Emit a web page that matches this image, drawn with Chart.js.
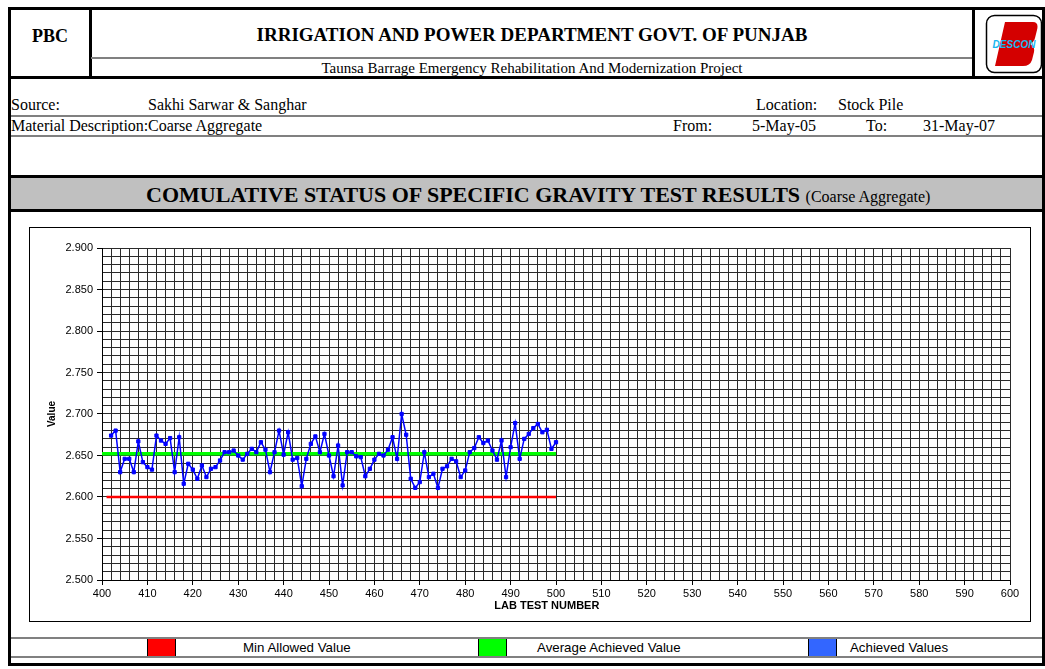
<!DOCTYPE html>
<html>
<head>
<meta charset="utf-8">
<script src="https://cdn.jsdelivr.net/npm/chart.js@4/dist/chart.umd.min.js"></script>
<style>
  body { margin: 0; background: #fff; width: 1045px; height: 669px; position: relative; overflow: hidden; }
  .ln { position: absolute; background: #000; }
  .gl { position: absolute; background: #808080; }
  .t { position: absolute; font-family: "Liberation Serif", "Times New Roman", serif; color: #000; white-space: nowrap; line-height: 1; }
  .s { position: absolute; font-family: "Liberation Sans", Arial, sans-serif; font-size: 13.3px; color: #000; white-space: nowrap; line-height: 1; }
  .box { position: absolute; top: 639px; width: 27px; height: 17px; border-left: 1px solid #000; border-right: 1px solid #000; }
  #chartBox { position: absolute; left: 29px; top: 227px; width: 1000px; height: 393px; border: 1px solid #000; }
</style>
</head>
<body>
<!-- frame -->
<div class="ln" style="left:8px;top:7px;width:3px;height:659px"></div>
<div class="ln" style="left:8px;top:7px;width:1037px;height:3px"></div>
<div class="ln" style="left:1042px;top:7px;width:3px;height:659px"></div>
<div class="ln" style="left:8px;top:663px;width:1037px;height:3px"></div>
<div class="ln" style="left:89px;top:7px;width:3px;height:71px"></div>
<div class="ln" style="left:972px;top:7px;width:3px;height:71px"></div>
<div class="gl" style="left:91px;top:57px;width:881px;height:2px"></div>
<div class="ln" style="left:8px;top:76px;width:1037px;height:3px"></div>
<div class="gl" style="left:11px;top:115px;width:1031px;height:2px"></div>
<div class="gl" style="left:11px;top:135px;width:1031px;height:2px"></div>
<div class="ln" style="left:8px;top:175px;width:1037px;height:3px"></div>
<div style="position:absolute;left:11px;top:178px;width:1031px;height:31px;background:#c0c0c0"></div>
<div class="ln" style="left:8px;top:209px;width:1037px;height:3px"></div>
<div class="gl" style="left:11px;top:637px;width:1031px;height:2px"></div>
<div class="gl" style="left:11px;top:656px;width:1031px;height:2px"></div>

<!-- header -->
<div class="t" style="left:11px;width:78px;top:27px;text-align:center;font-size:18px;font-weight:bold">PBC</div>
<div class="t" style="left:92px;width:880px;top:25px;text-align:center;font-size:19px;font-weight:bold">IRRIGATION AND POWER DEPARTMENT GOVT. OF PUNJAB</div>
<div class="t" style="left:92px;width:880px;top:61px;text-align:center;font-size:15px">Taunsa Barrage Emergency Rehabilitation And Modernization Project</div>
<svg style="position:absolute;left:985px;top:14px" width="58" height="60" viewBox="0 0 58 60">
  <rect x="1.5" y="1.5" width="55" height="57" rx="8" ry="8" fill="#fff" stroke="#000" stroke-width="1.5"/>
  <path d="M20 8 L48 8 Q54 8 52 16 L50 24 Q49 28 45 30 Q50 32 49 38 L47 46 Q45 52 38 52 L10 52 Z" fill="#d40000"/>
  <text x="29" y="34" text-anchor="middle" font-family="Liberation Sans, Arial, sans-serif" font-size="10" font-weight="bold" font-style="italic" fill="#19b8f0">DESCON</text>
</svg>

<!-- info rows -->
<div class="t" style="left:11px;top:97px;font-size:16px">Source:</div>
<div class="t" style="left:148px;top:97px;font-size:16px">Sakhi Sarwar &amp; Sanghar</div>
<div class="t" style="left:756px;top:97px;font-size:16px">Location:</div>
<div class="t" style="left:838px;top:97px;font-size:16px">Stock Pile</div>
<div class="t" style="left:11px;top:118px;font-size:16px;width:137px;overflow:hidden">Material Description:</div>
<div class="t" style="left:148px;top:118px;font-size:16px">Coarse Aggregate</div>
<div class="t" style="left:673px;top:118px;font-size:16px">From:</div>
<div class="t" style="left:752px;top:118px;font-size:16px">5-May-05</div>
<div class="t" style="left:866px;top:118px;font-size:16px">To:</div>
<div class="t" style="left:923px;top:118px;font-size:16px">31-May-07</div>

<!-- chart title band -->
<div class="t" style="left:146px;top:184px;font-size:22px;font-weight:bold">COMULATIVE STATUS OF SPECIFIC GRAVITY TEST RESULTS <span style="font-size:16px;font-weight:normal">(Coarse Aggregate)</span></div>

<div id="chartBox"><canvas id="myChart" width="1000" height="393"></canvas></div>

<!-- legend -->
<div class="box" style="left:147px;background:#ff0000"></div>
<div class="s" style="left:243px;top:641px">Min Allowed Value</div>
<div class="box" style="left:478px;background:#00ff00"></div>
<div class="s" style="left:537px;top:641px">Average Achieved Value</div>
<div class="box" style="left:808px;background:#3366ff"></div>
<div class="s" style="left:850px;top:641px">Achieved Values</div>

<script>
const firstTestNo = 402;
const achievedValues = [
  2.674, 2.680, 2.630, 2.646, 2.646, 2.630, 2.667, 2.642, 2.636, 2.633,
  2.674, 2.668, 2.664, 2.671, 2.630, 2.672, 2.616, 2.640, 2.633, 2.622,
  2.638, 2.624, 2.634, 2.636, 2.644, 2.654, 2.654, 2.656, 2.650, 2.645,
  2.652, 2.658, 2.654, 2.666, 2.657, 2.630, 2.654, 2.680, 2.651, 2.678,
  2.645, 2.647, 2.613, 2.646, 2.664, 2.673, 2.654, 2.676, 2.650, 2.625,
  2.662, 2.614, 2.654, 2.654, 2.649, 2.648, 2.625, 2.634, 2.645, 2.652,
  2.650, 2.657, 2.672, 2.646, 2.700, 2.675, 2.622, 2.611, 2.618, 2.654,
  2.624, 2.628, 2.611, 2.634, 2.637, 2.646, 2.643, 2.624, 2.632, 2.654,
  2.659, 2.672, 2.665, 2.668, 2.656, 2.645, 2.668, 2.624, 2.660, 2.689,
  2.646, 2.670, 2.676, 2.683, 2.688, 2.678, 2.681, 2.658, 2.666
];
const minAllowedX = [401, 500];
const minAllowedValue = 2.600;
const averageX = [400, 500];
const averageValue = 2.652;

const xTicksMin = 400, xTicksMax = 600;
const yTicksMin = 2.5, yTicksMax = 2.9;

const achievedPoints = achievedValues.map((v, i) => ({ x: firstTestNo + i, y: v }));
const minPoints = minAllowedX.map(x => ({ x: x, y: minAllowedValue }));
const avgPoints = averageX.map(x => ({ x: x, y: averageValue }));

const gridColor = "#2a2a2a";
const axisFont = "'Liberation Sans', Arial, sans-serif";

const ctx = document.getElementById("myChart").getContext("2d");
const myChart = new Chart(ctx, {
  type: "line",
  data: {
    datasets: [
      {
        label: "Achieved Values",
        data: achievedPoints,
        borderColor: "#0000ff",
        backgroundColor: "#0000ff",
        borderWidth: 1.5,
        pointStyle: "rect",
        pointRadius: 2.3,
        pointBorderWidth: 1,
        tension: 0,
      },
      {
        label: "Average Achieved Value",
        data: avgPoints,
        borderColor: "#00ff00",
        borderWidth: 3.5,
        pointRadius: 0,
      },
      {
        label: "Min Allowed Value",
        data: minPoints,
        borderColor: "#ff0000",
        borderWidth: 2.5,
        pointRadius: 0,
      },
    ],
  },
  options: {
    responsive: false,
    animation: false,
    layout: { padding: { top: 20, right: 20, left: 0, bottom: 0 } },
    plugins: { legend: { display: false }, tooltip: { enabled: false } },
    scales: {
      x: {
        type: "linear",
        min: xTicksMin,
        max: xTicksMax,
        afterFit: (scale) => { scale.height = 41; },
        ticks: {
          stepSize: 2,
          autoSkip: false,
          maxRotation: 0,
          padding: 2,
          color: "#000",
          font: { family: axisFont, size: 11 },
          callback: (v) => (v % 10 === 0 ? String(v) : ""),
        },
        grid: {
          color: gridColor,
          lineWidth: 1,
          tickLength: 5,
          tickColor: (c) => (c.tick && c.tick.value % 10 === 0 ? "#000" : "rgba(0,0,0,0)"),
        },
        border: { color: "#000" },
        title: {
          display: true,
          text: "LAB TEST NUMBER      ",
          color: "#000",
          font: { family: axisFont, size: 11, weight: "bold" },
          padding: { top: 0, bottom: 8 },
        },
      },
      y: {
        min: yTicksMin,
        max: yTicksMax,
        afterFit: (scale) => { scale.width = 72; },
        ticks: {
          stepSize: 0.01,
          autoSkip: false,
          padding: 4,
          color: "#000",
          font: { family: axisFont, size: 11 },
          callback: (v) => (Math.round(v * 100) % 5 === 0 ? v.toFixed(3) : ""),
        },
        grid: {
          color: gridColor,
          lineWidth: 1,
          tickLength: 5,
          tickColor: (c) => (c.tick && Math.round(c.tick.value * 100) % 5 === 0 ? "#000" : "rgba(0,0,0,0)"),
        },
        border: { color: "#000" },
        title: {
          display: true,
          text: "Value",
          color: "#000",
          font: { family: axisFont, size: 10, weight: "bold" },
          padding: { top: 16, bottom: 0 },
        },
      },
    },
  },
});
</script>
</body>
</html>
